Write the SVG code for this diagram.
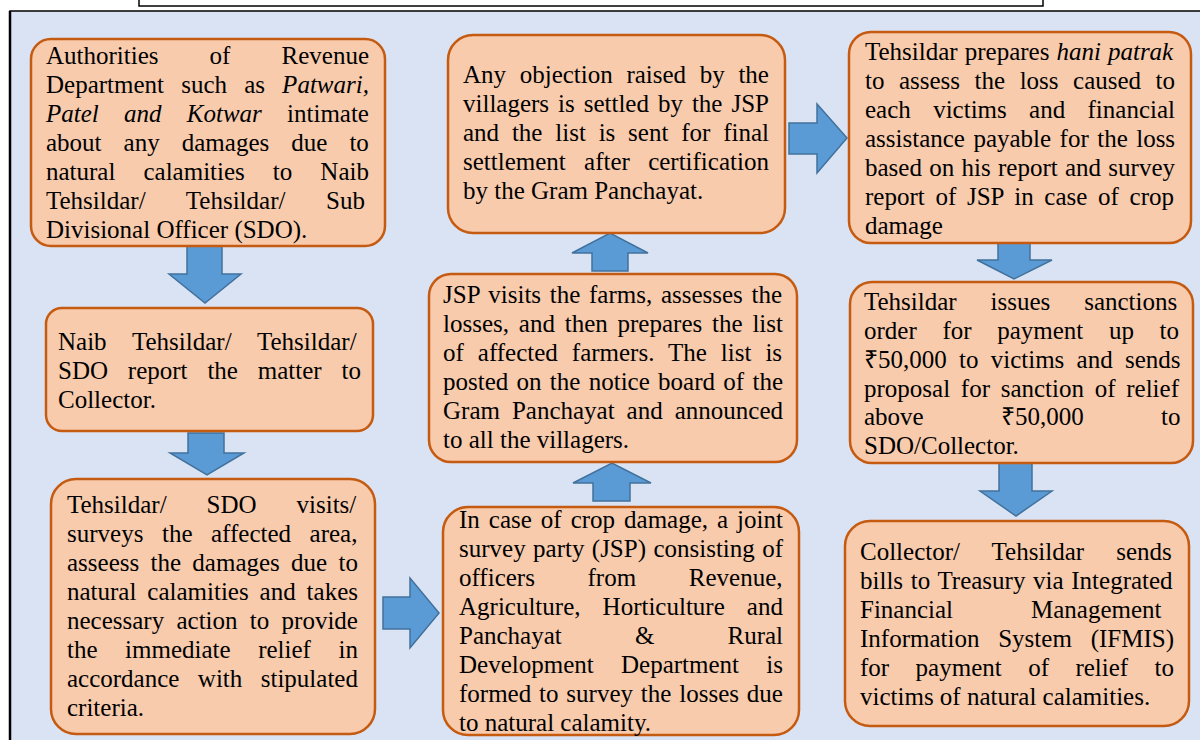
<svg xmlns="http://www.w3.org/2000/svg" width="1200" height="740" viewBox="0 0 1200 740">
<style>
.node rect{fill:#f8cbad;stroke:#c55a11;stroke-width:2.5}
.node text{font-size:25px;fill:#000}
.it{font-style:italic}
.arr{fill:#5b9bd5;stroke:#41719c;stroke-width:1.5;stroke-linejoin:miter}
</style>
<rect x="139" y="-10" width="904" height="16" fill="#fff" stroke="#000" stroke-width="1.5"/>
<rect x="10" y="11" width="1200" height="740" fill="#dae3f3" stroke="#000" stroke-width="1.5"/>
<line x1="10" y1="11" x2="10" y2="740" stroke="#000" stroke-width="2.5"/>

<g id="connectors">
<polygon class="arr" points="187,245 222,245 222,274 241,274 205,303 169,274 187,274"/>
<polygon class="arr" points="188,433 224,433 224,453 244,453 207,475 170,453 188,453"/>
<polygon class="arr" points="383,597 410,597 410,578 439,613 410,648 410,629 383,629"/>
<polygon class="arr" points="593,501 593,483 573,483 612,463 651,483 630,483 630,501"/>
<polygon class="arr" points="592,271 592,253 572,253 610,233 648,253 628,253 628,271"/>
<polygon class="arr" points="789,123 817,123 817,104 847,138 817,173 817,154 789,154"/>
<polygon class="arr" points="998,243 1030,243 1030,260 1052,260 1014,279 977,260 998,260"/>
<polygon class="arr" points="999,463 1032,463 1032,491 1052,491 1016,516 980,491 999,491"/>
</g>

<g id="n1" class="node">
<rect x="31" y="39" width="354" height="207" rx="20"/>
<text font-family="Liberation Serif, Tinos, Times New Roman, serif">
<tspan x="46" y="64" style="word-spacing:44.85px">Authorities of Revenue</tspan>
<tspan x="46" y="93" style="word-spacing:10.9px">Department such as <tspan class="it">Patwari,</tspan></tspan>
<tspan x="46" y="122" style="word-spacing:19px"><tspan class="it">Patel and Kotwar</tspan> intimate</tspan>
<tspan x="46" y="151" style="word-spacing:15.8px">about any damages due to</tspan>
<tspan x="46" y="180" style="word-spacing:21.8px">natural calamities to Naib</tspan>
<tspan x="46" y="209" style="word-spacing:34.4px">Tehsildar/ Tehsildar/ Sub</tspan>
<tspan x="46" y="238">Divisional Officer (SDO).</tspan>
</text>
</g>

<g id="n2" class="node">
<rect x="46" y="308" width="327" height="123" rx="16"/>
<text font-family="Liberation Serif, Tinos, Times New Roman, serif">
<tspan x="58" y="350" style="word-spacing:19.6px">Naib Tehsildar/ Tehsildar/</tspan>
<tspan x="58" y="379" style="word-spacing:13.6px">SDO report the matter to</tspan>
<tspan x="58" y="408">Collector.</tspan>
</text>
</g>

<g id="n3" class="node">
<rect x="51" y="479" width="324" height="255" rx="25"/>
<text font-family="Liberation Serif, Tinos, Times New Roman, serif">
<tspan x="67" y="513" style="word-spacing:33.7px">Tehsildar/ SDO visits/</tspan>
<tspan x="67" y="542" style="word-spacing:12.3px">surveys the affected area,</tspan>
<tspan x="67" y="571" style="word-spacing:5.05px">asseess the damages due to</tspan>
<tspan x="67" y="600" style="word-spacing:4.67px">natural calamities and takes</tspan>
<tspan x="67" y="629" style="word-spacing:6.05px">necessary action to provide</tspan>
<tspan x="67" y="658" style="word-spacing:21.3px">the immediate relief in</tspan>
<tspan x="67" y="687" style="word-spacing:12.2px">accordance with stipulated</tspan>
<tspan x="67" y="716">criteria.</tspan>
</text>
</g>

<g id="n4" class="node">
<rect x="443" y="507" width="356" height="228" rx="25"/>
<text font-family="Liberation Serif, Tinos, Times New Roman, serif">
<tspan x="459" y="528" style="word-spacing:2.74px">In case of crop damage, a joint</tspan>
<tspan x="459" y="557" style="word-spacing:1.15px">survey party (JSP) consisting of</tspan>
<tspan x="459" y="586" style="word-spacing:46.4px">officers from Revenue,</tspan>
<tspan x="459" y="615" style="word-spacing:15.85px">Agriculture, Horticulture and</tspan>
<tspan x="459" y="644" style="word-spacing:66.9px">Panchayat &amp; Rural</tspan>
<tspan x="459" y="673" style="word-spacing:21.05px">Development Department is</tspan>
<tspan x="459" y="702" style="word-spacing:1.6px">formed to survey the losses due</tspan>
<tspan x="459" y="731">to natural calamity.</tspan>
</text>
</g>

<g id="n5" class="node">
<rect x="429" y="274" width="368" height="188" rx="22"/>
<text font-family="Liberation Serif, Tinos, Times New Roman, serif">
<tspan x="443" y="303" style="word-spacing:2.44px">JSP visits the farms, assesses the</tspan>
<tspan x="443" y="332" style="word-spacing:3.56px">losses, and then prepares the list</tspan>
<tspan x="443" y="361" style="word-spacing:7.74px">of affected farmers. The list is</tspan>
<tspan x="443" y="390" style="word-spacing:2.05px">posted on the notice board of the</tspan>
<tspan x="443" y="419" style="word-spacing:5.73px">Gram Panchayat and announced</tspan>
<tspan x="443" y="448">to all the villagers.</tspan>
</text>
</g>

<g id="n6" class="node">
<rect x="448" y="35" width="337" height="198" rx="25"/>
<text font-family="Liberation Serif, Tinos, Times New Roman, serif">
<tspan x="463" y="83" style="word-spacing:7.4px">Any objection raised by the</tspan>
<tspan x="463" y="112" style="word-spacing:2.72px">villagers is settled by the JSP</tspan>
<tspan x="463" y="141" style="word-spacing:6.56px">and the list is sent for final</tspan>
<tspan x="463" y="170" style="word-spacing:12.05px">settlement after certification</tspan>
<tspan x="463" y="199">by the Gram Panchayat.</tspan>
</text>
</g>

<g id="n7" class="node">
<rect x="849" y="32" width="342" height="211" rx="22"/>
<text font-family="Liberation Serif, Tinos, Times New Roman, serif">
<tspan x="865" y="60" style="word-spacing:0.8px">Tehsildar prepares <tspan class="it">hani patrak</tspan></tspan>
<tspan x="865" y="89" style="word-spacing:8.26px">to assess the loss caused to</tspan>
<tspan x="865" y="118" style="word-spacing:16.1px">each victims and financial</tspan>
<tspan x="865" y="147" style="word-spacing:2.2px">assistance payable for the loss</tspan>
<tspan x="865" y="176" style="word-spacing:1.04px">based on his report and survey</tspan>
<tspan x="865" y="205" style="word-spacing:4.45px">report of JSP in case of crop</tspan>
<tspan x="865" y="234">damage</tspan>
</text>
</g>

<g id="n8" class="node">
<rect x="850" y="282" width="343" height="181" rx="22"/>
<text font-family="Liberation Serif, Tinos, Times New Roman, serif">
<tspan x="864" y="310" style="word-spacing:27.65px">Tehsildar issues sanctions</tspan>
<tspan x="864" y="339" style="word-spacing:19.4px">order for payment up to</tspan>
<tspan x="864" y="368" style="word-spacing:6px">₹50,000 to victims and sends</tspan>
<tspan x="864" y="397" style="word-spacing:4.46px">proposal for sanction of relief</tspan>
<tspan x="864" y="425" style="word-spacing:71.05px">above ₹50,000 to</tspan>
<tspan x="864" y="454">SDO/Collector.</tspan>
</text>
</g>

<g id="n9" class="node">
<rect x="845" y="521" width="344" height="205" rx="25"/>
<text font-family="Liberation Serif, Tinos, Times New Roman, serif">
<tspan x="860" y="560" style="word-spacing:25.75px">Collector/ Tehsildar sends</tspan>
<tspan x="860" y="589" style="word-spacing:1.43px">bills to Treasury via Integrated</tspan>
<tspan x="860" y="618" style="word-spacing:71.7px">Financial Management</tspan>
<tspan x="860" y="647" style="word-spacing:12.55px">Information System (IFMIS)</tspan>
<tspan x="860" y="676" style="word-spacing:20.2px">for payment of relief to</tspan>
<tspan x="860" y="705">victims of natural calamities.</tspan>
</text>
</g>
</svg>
